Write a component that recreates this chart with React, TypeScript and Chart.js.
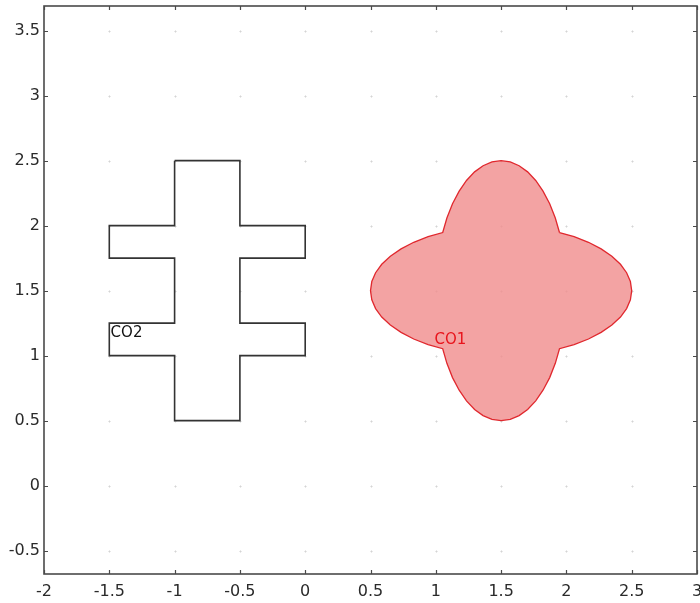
import React, { useEffect, useRef } from "react";
import { Chart, registerables } from "chart.js";

Chart.register(...registerables);

const xTicks = [-2, -1.5, -1, -0.5, 0, 0.5, 1, 1.5, 2, 2.5, 3];
const yTicks = [-0.5, 0, 0.5, 1, 1.5, 2, 2.5, 3, 3.5];

// CO2: cross-shaped polygon (closed)
const co2X = [-1, -0.5, -0.5, 0, 0, -0.5, -0.5, 0, 0, -0.5, -0.5, -1, -1, -1.5, -1.5, -1, -1, -1.5, -1.5, -1, -1];
const co2Y = [2.5, 2.5, 2, 2, 1.75, 1.75, 1.25, 1.25, 1, 1, 0.5, 0.5, 1, 1, 1.25, 1.25, 1.75, 1.75, 2, 2, 2.5];

// CO1: four-lobed filled shape (closed outline)
const co1X = [
  1.947, 2.059, 2.169, 2.266, 2.348, 2.414, 2.461, 2.49, 2.5, 2.49, 2.461, 2.414, 2.348, 2.266, 2.169, 2.059,
  1.947, 1.915, 1.872, 1.821, 1.765, 1.703, 1.638, 1.57, 1.5, 1.43, 1.362, 1.297, 1.235, 1.179, 1.128, 1.085,
  1.053, 0.941, 0.831, 0.734, 0.652, 0.586, 0.539, 0.51, 0.5, 0.51, 0.539, 0.586, 0.652, 0.734, 0.831, 0.941,
  1.053, 1.085, 1.128, 1.179, 1.235, 1.297, 1.362, 1.43, 1.5, 1.57, 1.638, 1.703, 1.765, 1.821, 1.872, 1.915,
  1.947,
];
const co1Y = [
  1.947, 1.915, 1.872, 1.821, 1.765, 1.703, 1.638, 1.57, 1.5, 1.43, 1.362, 1.297, 1.235, 1.179, 1.128, 1.085,
  1.053, 0.941, 0.831, 0.734, 0.652, 0.586, 0.539, 0.51, 0.5, 0.51, 0.539, 0.586, 0.652, 0.734, 0.831, 0.941,
  1.053, 1.085, 1.128, 1.179, 1.235, 1.297, 1.362, 1.43, 1.5, 1.57, 1.638, 1.703, 1.765, 1.821, 1.872, 1.915,
  1.947, 2.059, 2.169, 2.266, 2.348, 2.414, 2.461, 2.49, 2.5, 2.49, 2.461, 2.414, 2.348, 2.266, 2.169, 2.059,
  1.947,
];

const labels = [
  { text: "CO2", x: -1.49, y: 1.175, color: "#111111" },
  { text: "CO1", x: 0.99, y: 1.12, color: "#e8141c" },
];

const FONT = "'DejaVu Sans', Verdana, sans-serif";

const framePlugin = {
  id: "framePlugin",
  beforeDatasetsDraw(chart: any) {
    const { ctx, chartArea, scales } = chart;
    const xs = scales.x;
    const ys = scales.y;
    ctx.save();
    ctx.strokeStyle = "rgba(0,0,0,0.09)";
    ctx.lineWidth = 1;
    for (const xv of xTicks) {
      for (const yv of yTicks) {
        const px = Math.round(xs.getPixelForValue(xv)) + 0.5;
        const py = Math.round(ys.getPixelForValue(yv)) + 0.5;
        if (px <= chartArea.left + 1 || px >= chartArea.right - 1) continue;
        ctx.beginPath();
        ctx.moveTo(px - 1.5, py);
        ctx.lineTo(px + 1.5, py);
        ctx.moveTo(px, py - 1.5);
        ctx.lineTo(px, py + 1.5);
        ctx.stroke();
      }
    }
    ctx.restore();
  },
  afterDatasetsDraw(chart: any) {
    const { ctx, chartArea, scales } = chart;
    const xs = scales.x;
    const ys = scales.y;
    ctx.save();
    ctx.strokeStyle = "#4a4a4a";
    ctx.lineWidth = 1.6;
    ctx.strokeRect(chartArea.left, chartArea.top, chartArea.right - chartArea.left, chartArea.bottom - chartArea.top);
    ctx.lineWidth = 1.2;
    const tl = 4;
    ctx.beginPath();
    for (const xv of xTicks) {
      const px = Math.round(xs.getPixelForValue(xv)) + 0.5;
      ctx.moveTo(px, chartArea.bottom);
      ctx.lineTo(px, chartArea.bottom - tl);
      ctx.moveTo(px, chartArea.top);
      ctx.lineTo(px, chartArea.top + tl);
    }
    for (const yv of yTicks) {
      const py = Math.round(ys.getPixelForValue(yv)) + 0.5;
      ctx.moveTo(chartArea.left, py);
      ctx.lineTo(chartArea.left + tl, py);
      ctx.moveTo(chartArea.right, py);
      ctx.lineTo(chartArea.right - tl, py);
    }
    ctx.stroke();
    ctx.font = "15px " + FONT;
    ctx.textAlign = "left";
    ctx.textBaseline = "middle";
    for (const l of labels) {
      ctx.fillStyle = l.color;
      ctx.fillText(l.text, xs.getPixelForValue(l.x), ys.getPixelForValue(l.y));
    }
    ctx.restore();
  },
};

export default function App() {
  const ref = useRef<HTMLCanvasElement | null>(null);
  useEffect(() => {
    if (!ref.current) return;
    const chart = new Chart(ref.current, {
      type: "scatter",
      data: {
        datasets: [
          {
            label: "CO1",
            data: co1X.map((x, i) => ({ x, y: co1Y[i] })),
            showLine: true,
            fill: "shape",
            backgroundColor: "rgba(240, 140, 140, 0.8)",
            borderColor: "#e0282e",
            borderWidth: 1.3,
            pointRadius: 0,
            tension: 0,
          },
          {
            label: "CO2",
            data: co2X.map((x, i) => ({ x, y: co2Y[i] })),
            showLine: true,
            fill: false,
            borderColor: "#333333",
            borderWidth: 1.6,
            pointRadius: 0,
            tension: 0,
          },
        ],
      },
      options: {
        animation: false,
        responsive: false,
        layout: { padding: { left: 0, right: 3, top: 6, bottom: 0 } },
        plugins: { legend: { display: false }, tooltip: { enabled: false } },
        scales: {
          x: {
            type: "linear",
            min: -2,
            max: 3,
            afterBuildTicks: (s: any) => {
              s.ticks = xTicks.map((v) => ({ value: v }));
            },
            afterFit: (s: any) => {
              s.height = 29;
              s.paddingLeft = 0;
              s.paddingRight = 0;
            },
            grid: { display: false, drawTicks: false },
            border: { display: false },
            ticks: {
              padding: 8,
              color: "#2a2a2a",
              font: { family: FONT, size: 16 },
              maxRotation: 0,
              autoSkip: false,
              callback: (v: any) => String(v),
            },
          },
          y: {
            type: "linear",
            min: -0.68,
            max: 3.69,
            afterBuildTicks: (s: any) => {
              s.ticks = yTicks.map((v) => ({ value: v }));
            },
            afterFit: (s: any) => {
              s.width = 44;
              s.paddingTop = 0;
              s.paddingBottom = 0;
            },
            grid: { display: false, drawTicks: false },
            border: { display: false },
            ticks: {
              padding: 4,
              color: "#2a2a2a",
              font: { family: FONT, size: 16 },
              autoSkip: false,
              callback: (v: any) => String(v),
            },
          },
        },
      },
      plugins: [framePlugin],
    } as any);
    return () => chart.destroy();
  }, []);
  return (
    <div style={{ position: "absolute", left: 0, top: 0, width: 700, height: 603, background: "#fff" }}>
      <canvas ref={ref} width={700} height={603} style={{ display: "block" }} />
    </div>
  );
}
